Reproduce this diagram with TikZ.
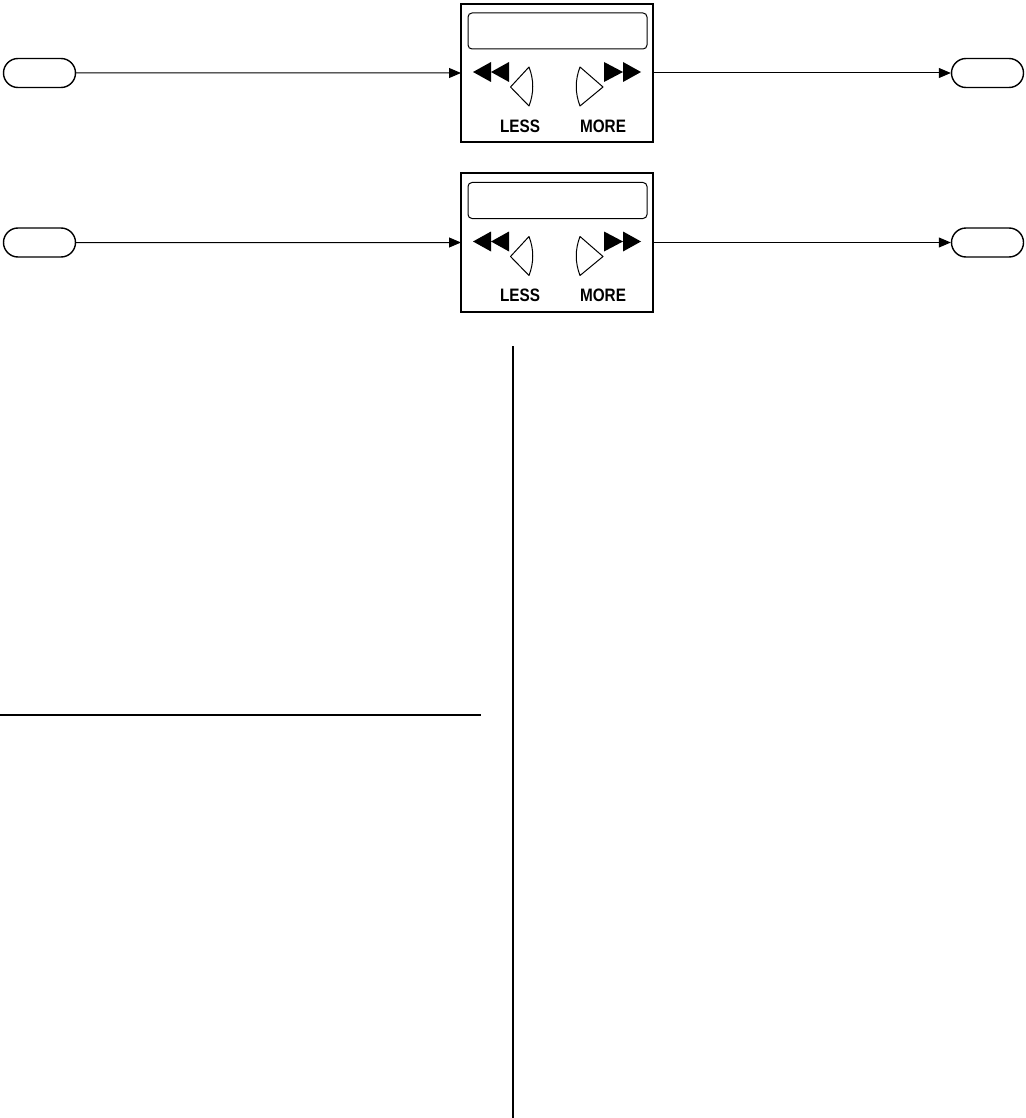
\documentclass[tikz,border=0pt]{standalone}
\usepackage{fontspec}
\setmainfont{Liberation Sans}
\usetikzlibrary{shapes.misc,arrows.meta}
\tikzset{
  panelbox/.style={draw,line width=2pt,minimum width=192pt,minimum height=138pt,inner sep=0pt,outer sep=0pt},
  terminal/.style={draw,rounded rectangle,line width=1.4pt,minimum width=72pt,minimum height=29pt,inner sep=0pt},
  flow/.style={line width=1pt,-{Triangle[length=12pt,width=10pt]}},
  btnlabel/.style={font=\bfseries\fontsize{18}{18}\selectfont,inner sep=0pt},
  thin/.style={line width=1pt},
  rule/.style={line width=1.4pt}
}
\begin{document}
\begin{tikzpicture}[x=1pt,y=-1pt]
\useasboundingbox[fill=white] (0,0) rectangle (1025,1118);
\foreach \r/\dy in {1/0,2/169.5}{
  \node[panelbox] (p\r) at (557,73+\dy) {};
  \node[terminal] (in\r) at (39.5,73+\dy) {};
  \node[terminal] (out\r) at (987.5,73+\dy) {};
  \begin{scope}[shift={(p\r.center)}]
    \draw[thin,rounded corners=4pt] (-89,-60) rectangle (90,-24);
    \fill (-84,-1) -- (-66,-11) -- (-66,9) -- cycle;
    \fill (-66,-1) -- (-48,-11) -- (-48,9) -- cycle;
    \fill (47,-11) -- (47,9) -- (66,-1) -- cycle;
    \fill (66,-11) -- (66,9) -- (84,-1) -- cycle;
    \draw[thin,line join=round] (-28,-6) -- (-46.5,14) -- (-28,33) .. controls (-23,20) and (-23,7) .. cycle;
    \draw[thin,line join=round] (23,-6) -- (46,14) -- (23,33) .. controls (18,20) and (18,7) .. cycle;
    \node[btnlabel] (less\r) at (-37,53) {\scalebox{0.85}[1]{LESS}};
    \node[btnlabel] (more\r) at (46,53) {\scalebox{0.85}[1]{MORE}};
  \end{scope}
  \draw[flow] (in\r) -- (p\r);
  \draw[flow] (p\r) -- (out\r);
}
\draw[rule] (0,715) -- (481,715);
\draw[rule] (513,346) -- (513,1118);
\end{tikzpicture}
\end{document}
